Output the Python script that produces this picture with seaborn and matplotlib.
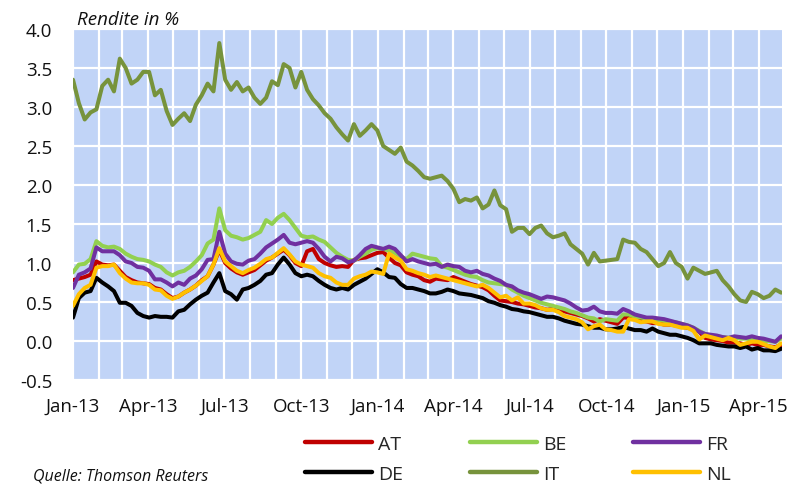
import numpy as np
import pandas as pd
import matplotlib.pyplot as plt
import matplotlib.dates as mdates
import matplotlib.ticker as mticker
import seaborn as sns

# weekly readings, 1 Jan 2013 .. 28 Apr 2015 (yields in %)
dates = pd.date_range('2013-01-01', '2015-04-28', freq='7D')

at = [0.78, 0.80, 0.82, 0.85, 1.02, 0.98, 0.97, 0.98, 0.90, 0.82,
      0.78, 0.75, 0.74, 0.73, 0.68, 0.66, 0.60, 0.55, 0.57, 0.62,
      0.66, 0.71, 0.78, 0.83, 0.98, 1.17, 1.00, 0.93, 0.88, 0.85,
      0.88, 0.91, 0.97, 1.03, 1.07, 1.12, 1.17, 1.10, 1.00, 0.96,
      1.15, 1.18, 1.05, 1.00, 0.97, 0.95, 0.96, 0.95, 1.04, 1.06,
      1.07, 1.10, 1.13, 1.14, 1.07, 1.00, 0.97, 0.88, 0.85, 0.83,
      0.78, 0.76, 0.80, 0.79, 0.78, 0.82, 0.79, 0.76, 0.73, 0.71,
      0.69, 0.65, 0.58, 0.52, 0.51, 0.50, 0.48, 0.47, 0.45, 0.43,
      0.42, 0.40, 0.41, 0.40, 0.38, 0.36, 0.34, 0.32, 0.29, 0.25,
      0.28, 0.26, 0.24, 0.22, 0.30, 0.30, 0.29, 0.26, 0.25, 0.23,
      0.23, 0.21, 0.21, 0.20, 0.18, 0.17, 0.15, 0.12, 0.04, 0.02,
      0.01, 0.00, -0.02, -0.02, -0.03, -0.05, -0.03, -0.05, -0.05, -0.07,
      -0.08, -0.05]

be = [0.88, 0.98, 0.99, 1.05, 1.28, 1.22, 1.20, 1.21, 1.18, 1.12,
      1.08, 1.05, 1.04, 1.02, 0.98, 0.95, 0.88, 0.84, 0.88, 0.90,
      0.95, 1.02, 1.10, 1.25, 1.30, 1.70, 1.42, 1.35, 1.33, 1.30,
      1.32, 1.36, 1.40, 1.55, 1.50, 1.58, 1.63, 1.55, 1.45, 1.35,
      1.33, 1.34, 1.30, 1.27, 1.20, 1.13, 1.08, 1.04, 1.03, 1.08,
      1.12, 1.17, 1.19, 1.18, 1.16, 1.13, 1.08, 1.05, 1.12, 1.10,
      1.08, 1.06, 1.05, 0.96, 0.94, 0.91, 0.88, 0.85, 0.83, 0.82,
      0.78, 0.75, 0.74, 0.73, 0.72, 0.66, 0.62, 0.58, 0.55, 0.52,
      0.49, 0.47, 0.45, 0.43, 0.41, 0.38, 0.36, 0.33, 0.30, 0.29,
      0.25, 0.28, 0.27, 0.26, 0.34, 0.34, 0.31, 0.30, 0.29, 0.28,
      0.27, 0.26, 0.25, 0.24, 0.22, 0.20, 0.17, 0.13, 0.09, 0.07,
      0.06, 0.05, 0.04, 0.05, 0.03, 0.03, 0.02, 0.01, 0.00, 0.00,
      -0.01, 0.03]

fr = [0.68, 0.85, 0.88, 0.93, 1.20, 1.15, 1.15, 1.15, 1.10, 1.02,
      1.00, 0.95, 0.94, 0.90, 0.79, 0.79, 0.75, 0.70, 0.75, 0.72,
      0.80, 0.84, 0.92, 1.04, 1.05, 1.40, 1.12, 1.02, 0.99, 0.98,
      1.03, 1.05, 1.12, 1.20, 1.25, 1.30, 1.36, 1.26, 1.24, 1.26,
      1.28, 1.26, 1.18, 1.08, 1.02, 1.08, 1.06, 1.01, 1.03, 1.10,
      1.18, 1.22, 1.20, 1.18, 1.21, 1.18, 1.10, 1.02, 1.05, 1.02,
      1.00, 0.98, 0.99, 0.95, 0.98, 0.96, 0.95, 0.90, 0.88, 0.90,
      0.86, 0.84, 0.80, 0.77, 0.72, 0.70, 0.65, 0.62, 0.60, 0.57,
      0.54, 0.57, 0.56, 0.54, 0.52, 0.48, 0.43, 0.39, 0.40, 0.44,
      0.38, 0.36, 0.36, 0.35, 0.41, 0.38, 0.34, 0.32, 0.30, 0.30,
      0.29, 0.28, 0.26, 0.24, 0.22, 0.20, 0.17, 0.12, 0.09, 0.08,
      0.07, 0.05, 0.04, 0.06, 0.05, 0.04, 0.06, 0.04, 0.03, 0.01,
      -0.01, 0.06]

de = [0.30, 0.55, 0.62, 0.64, 0.81, 0.75, 0.70, 0.64, 0.49, 0.49,
      0.45, 0.36, 0.32, 0.30, 0.32, 0.31, 0.31, 0.30, 0.38, 0.40,
      0.47, 0.53, 0.58, 0.62, 0.75, 0.87, 0.64, 0.60, 0.53, 0.66,
      0.68, 0.72, 0.77, 0.85, 0.87, 0.98, 1.07, 0.98, 0.87, 0.83,
      0.85, 0.83, 0.77, 0.72, 0.68, 0.66, 0.68, 0.66, 0.72, 0.76,
      0.80, 0.86, 0.92, 0.88, 0.82, 0.81, 0.73, 0.68, 0.68, 0.66,
      0.64, 0.61, 0.61, 0.63, 0.66, 0.64, 0.61, 0.60, 0.59, 0.57,
      0.55, 0.51, 0.49, 0.46, 0.44, 0.41, 0.40, 0.38, 0.37, 0.35,
      0.33, 0.31, 0.31, 0.29, 0.26, 0.24, 0.22, 0.21, 0.19, 0.17,
      0.17, 0.15, 0.15, 0.16, 0.18, 0.16, 0.14, 0.14, 0.12, 0.16,
      0.12, 0.10, 0.08, 0.08, 0.06, 0.04, 0.01, -0.03, -0.03, -0.03,
      -0.05, -0.06, -0.07, -0.07, -0.09, -0.07, -0.11, -0.09, -0.12, -0.12,
      -0.13, -0.10]

it = [3.35, 3.05, 2.84, 2.93, 2.97, 3.27, 3.35, 3.20, 3.62, 3.50,
      3.30, 3.35, 3.45, 3.45, 3.15, 3.22, 2.95, 2.77, 2.85, 2.92,
      2.82, 3.03, 3.15, 3.30, 3.20, 3.82, 3.35, 3.22, 3.32, 3.20,
      3.25, 3.12, 3.04, 3.12, 3.33, 3.28, 3.55, 3.50, 3.25, 3.45,
      3.22, 3.10, 3.02, 2.92, 2.85, 2.74, 2.65, 2.57, 2.78, 2.63,
      2.70, 2.78, 2.70, 2.50, 2.45, 2.40, 2.48, 2.30, 2.25, 2.18,
      2.10, 2.08, 2.10, 2.12, 2.05, 1.95, 1.78, 1.82, 1.80, 1.84,
      1.70, 1.75, 1.93, 1.74, 1.69, 1.40, 1.45, 1.45, 1.37, 1.45,
      1.48, 1.38, 1.33, 1.35, 1.38, 1.24, 1.18, 1.12, 0.98, 1.13,
      1.02, 1.03, 1.04, 1.05, 1.30, 1.27, 1.26, 1.18, 1.14, 1.05,
      0.96, 1.00, 1.14, 1.00, 0.95, 0.80, 0.94, 0.90, 0.86, 0.88,
      0.90, 0.78, 0.70, 0.60, 0.52, 0.50, 0.63, 0.60, 0.55, 0.58,
      0.66, 0.62]

nl = [0.45, 0.60, 0.68, 0.72, 0.94, 0.96, 0.96, 0.98, 0.87, 0.80,
      0.75, 0.74, 0.74, 0.72, 0.66, 0.65, 0.58, 0.54, 0.57, 0.62,
      0.66, 0.71, 0.77, 0.83, 0.98, 1.19, 1.02, 0.96, 0.90, 0.87,
      0.91, 0.94, 0.99, 1.05, 1.07, 1.13, 1.19, 1.11, 1.02, 0.98,
      0.96, 0.94, 0.87, 0.83, 0.81, 0.75, 0.72, 0.72, 0.80, 0.83,
      0.85, 0.89, 0.88, 0.86, 1.12, 1.07, 1.03, 0.92, 0.90, 0.87,
      0.85, 0.82, 0.84, 0.82, 0.80, 0.78, 0.76, 0.74, 0.72, 0.70,
      0.72, 0.68, 0.62, 0.56, 0.58, 0.52, 0.56, 0.48, 0.48, 0.46,
      0.42, 0.40, 0.40, 0.37, 0.32, 0.30, 0.28, 0.24, 0.15, 0.19,
      0.21, 0.15, 0.14, 0.12, 0.12, 0.28, 0.27, 0.24, 0.25, 0.25,
      0.22, 0.21, 0.21, 0.19, 0.17, 0.17, 0.13, 0.02, 0.07, 0.05,
      0.03, 0.01, 0.04, 0.01, -0.05, -0.03, -0.01, -0.01, -0.04, -0.07,
      -0.09, -0.03]

countries = ['AT', 'BE', 'FR', 'DE', 'IT', 'NL']
colors = {'AT': '#C00000', 'BE': '#92D050', 'FR': '#7030A0',
          'DE': '#000000', 'IT': '#77933C', 'NL': '#FFC000'}

wide = pd.DataFrame({'AT': at, 'BE': be, 'FR': fr, 'DE': de, 'IT': it, 'NL': nl},
                    index=dates)
wide.index.name = 'date'
long = wide.reset_index().melt(id_vars='date', var_name='country', value_name='yield')

sns.set_style('white')
plt.rcParams['font.family'] = ['Open Sans', 'DejaVu Sans']
plt.rcParams['axes.unicode_minus'] = False

fig = plt.figure(figsize=(7.95, 4.85), dpi=100)
ax = fig.add_axes([73 / 795, 1 - 381 / 485, (782 - 73) / 795, (381 - 30) / 485])
ax.set_facecolor('#C1D4F7')

sns.lineplot(data=long, x='date', y='yield', hue='country', hue_order=countries,
             palette=colors, linewidth=2.9, ax=ax, legend=False)

ax.set_xlim(pd.Timestamp('2013-01-01'), pd.Timestamp('2015-04-29'))
ax.set_ylim(-0.5, 4.0)
ax.yaxis.set_major_locator(mticker.MultipleLocator(0.5))
ax.yaxis.set_major_formatter(mticker.FormatStrFormatter('%.1f'))
ax.xaxis.set_major_locator(mdates.MonthLocator(bymonth=[1, 4, 7, 10]))
ax.xaxis.set_minor_locator(mdates.MonthLocator())
ax.xaxis.set_major_formatter(mdates.DateFormatter('%b-%y'))
ax.grid(which='both', color='white', linewidth=1.6)
ax.set_axisbelow(True)
for s in ax.spines.values():
    s.set_visible(False)
ax.tick_params(axis='both', which='both', length=0, labelsize=13.5, colors='#111111')
ax.tick_params(axis='y', pad=15)
ax.tick_params(axis='x', pad=12)
ax.set_xlabel('')
ax.set_ylabel('')

fig.text(77 / 795, 1 - 20 / 485, 'Rendite in %', fontsize=13.5, style='italic',
         va='center', ha='left', color='#111111')
fig.text(33 / 795, 1 - 481 / 485, 'Quelle: Thomson Reuters', fontsize=11.5,
         style='italic', va='baseline', ha='left', color='#111111')

# legend rows: AT BE FR / DE IT NL (matplotlib fills column-wise)
order = ['AT', 'DE', 'BE', 'IT', 'FR', 'NL']
handles = [plt.Line2D([], [], color=colors[c], linewidth=3.2) for c in order]
fig.legend(handles, order, loc='upper left', bbox_to_anchor=(305 / 795, 1 - 436 / 485),
           ncol=3, frameon=False, fontsize=14, handlelength=3.45, handletextpad=0.3,
           columnspacing=3.45, labelspacing=0.62, borderpad=0, borderaxespad=0)

fig.savefig('out.png', dpi=100)
